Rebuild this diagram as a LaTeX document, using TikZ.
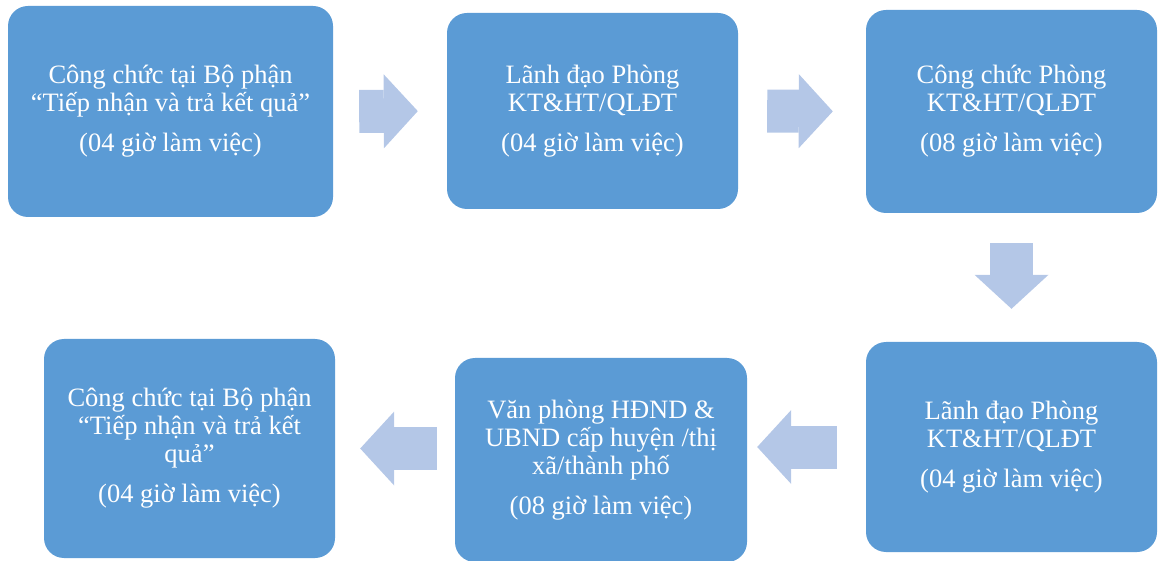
\documentclass[tikz,border=0pt]{standalone}
\usepackage{fontspec}
\setmainfont{Liberation Serif}
\usepackage{tikz}
\usetikzlibrary{arrows.meta}
\definecolor{boxblue}{RGB}{91,155,213}
\definecolor{arrowblue}{RGB}{180,199,231}
\tikzstyle{task} = [rectangle, rounded corners=20pt, fill=boxblue, text=white, align=center, inner sep=0pt, font=\fontsize{26.5}{28}\selectfont]
\tikzstyle{bigarrow} = [draw=arrowblue, line width=43pt, -{Triangle[length=34pt,width=74pt,line width=0pt]}]

\begin{document}
\begin{tikzpicture}[x=1pt, y=-1pt]
        \useasboundingbox (0,0) rectangle (1165,561);
        \node (tiepnhan) [task, minimum width=325pt, minimum height=211pt] at (170.5,111.5) {Công chức tại Bộ phận\\“Tiếp nhận và trả kết quả”\\[12pt](04 giờ làm việc)};
        \node (lanhdao) [task, minimum width=291pt, minimum height=196pt] at (592.5,111) {Lãnh đạo Phòng\\KT\&HT/QLĐT\\[12pt](04 giờ làm việc)};
        \node (congchuc) [task, minimum width=291pt, minimum height=203pt] at (1011.5,111.5) {Công chức Phòng\\KT\&HT/QLĐT\\[12pt](08 giờ làm việc)};
        \node (lanhdaoduyet) [task, minimum width=291pt, minimum height=210pt] at (1011.5,447) {Lãnh đạo Phòng\\KT\&HT/QLĐT\\[12pt](04 giờ làm việc)};
        \node (vanphong) [task, minimum width=292pt, minimum height=204pt] at (601,460) {Văn phòng HĐND \&\\UBND cấp huyện /thị\\xã/thành phố\\[12pt](08 giờ làm việc)};
        \node (traketqua) [task, minimum width=291pt, minimum height=219pt] at (189.5,448.5) {Công chức tại Bộ phận\\“Tiếp nhận và trả kết\\quả”\\[12pt](04 giờ làm việc)};
        \draw [bigarrow, shorten <=26pt, shorten >=29pt] (tiepnhan.east) -- (lanhdao.west);
        \draw [bigarrow, shorten <=29pt, shorten >=33pt] (lanhdao.east) -- (congchuc.west);
        \draw [bigarrow, shorten <=30pt, shorten >=33pt] (congchuc.south) -- (lanhdaoduyet.north);
        \draw [bigarrow, shorten <=29pt, shorten >=10pt] (lanhdaoduyet.west) -- (lanhdaoduyet.west -| vanphong.east);
        \draw [bigarrow, shorten <=18pt, shorten >=25pt] (vanphong.west |- traketqua.east) -- (traketqua.east);
      \end{tikzpicture}
\end{document}
